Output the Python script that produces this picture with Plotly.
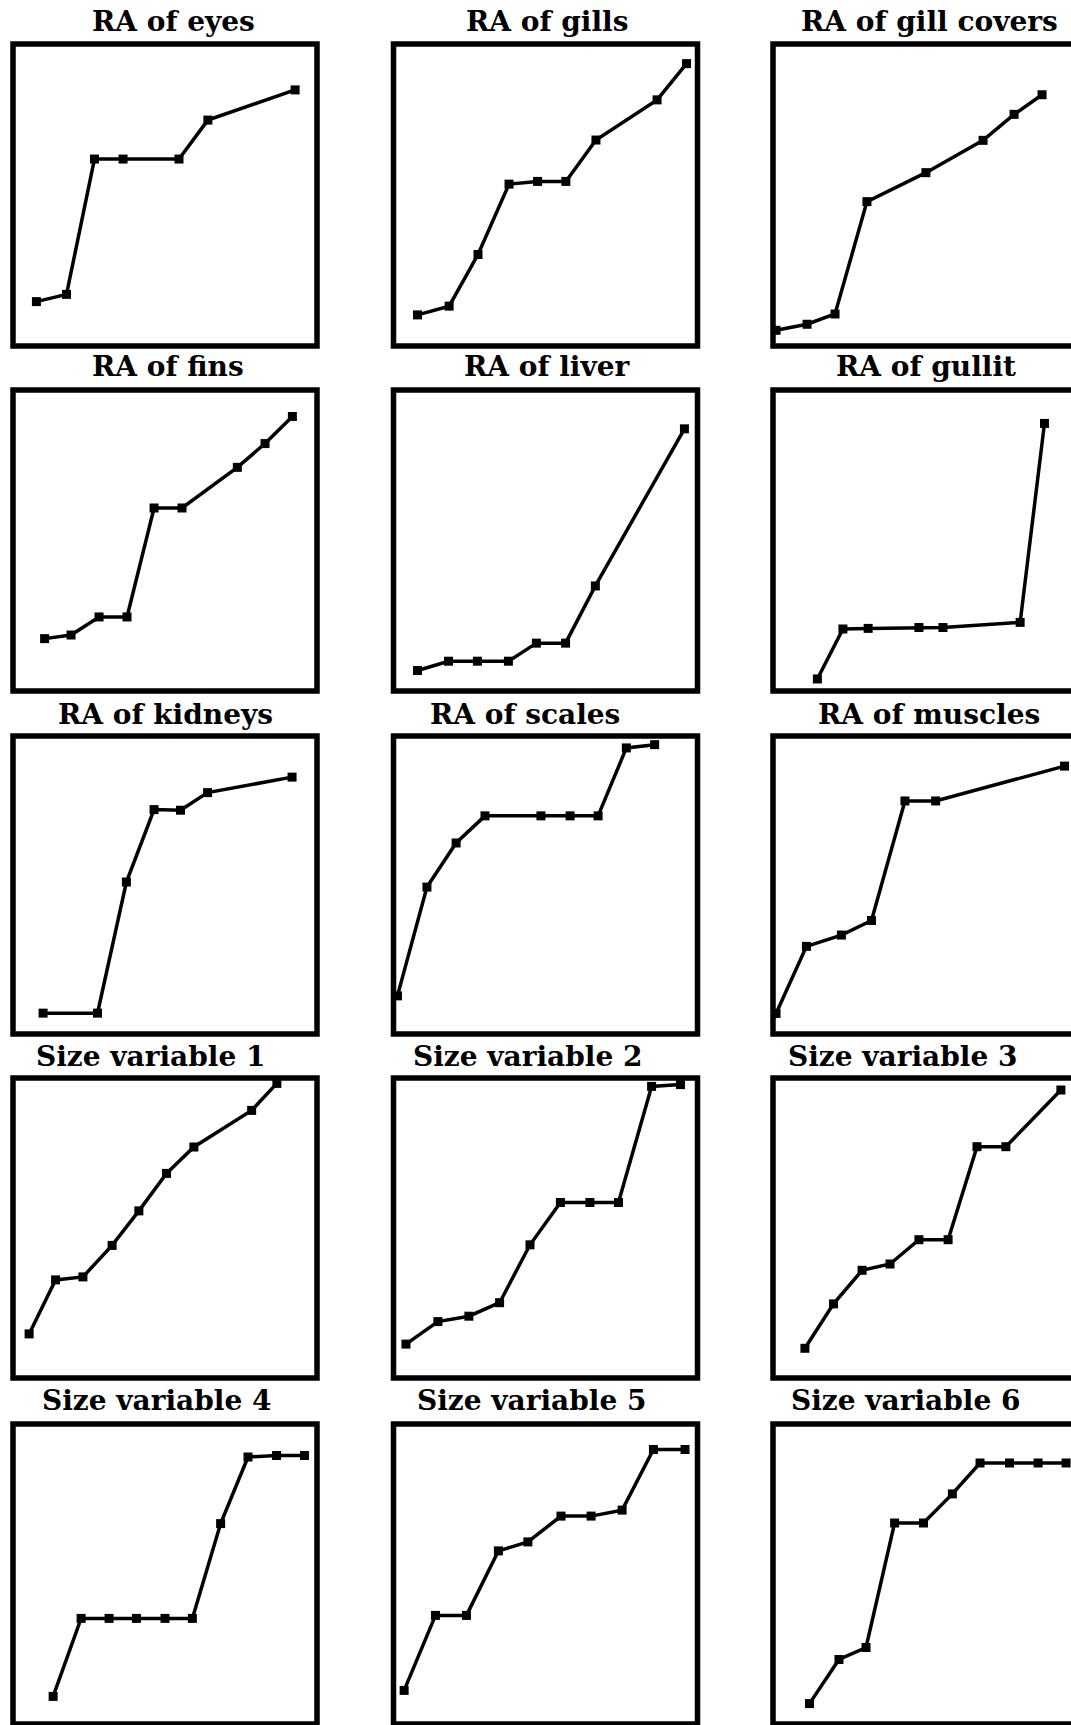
import plotly.graph_objects as go

# ---------------- data (x: position along panel, 0-100; y: relative accumulation, 0-100) ----------------
eyes_x = [7.7, 17.6, 26.8, 36.2, 54.6, 64.1, 92.8]
eyes_y = [14.7, 17.1, 61.9, 61.9, 61.9, 74.8, 84.8]

gills_x = [7.9, 18.3, 27.8, 38.0, 47.4, 56.7, 66.6, 86.7, 96.4]
gills_y = [10.3, 13.2, 30.3, 53.6, 54.5, 54.5, 68.2, 81.5, 93.5]

gill_covers_x = [1.0, 11.2, 20.4, 30.9, 50.3, 69.1, 79.3, 88.5]
gill_covers_y = [5.2, 7.2, 10.6, 47.8, 57.4, 68.1, 76.7, 83.2]

fins_x = [10.4, 19.1, 28.3, 37.5, 46.4, 55.6, 73.8, 82.9, 91.9]
fins_y = [17.4, 18.6, 24.6, 24.6, 60.8, 60.8, 74.3, 82.2, 91.2]

liver_x = [7.9, 18.1, 27.6, 37.8, 47.0, 56.6, 66.4, 95.7]
liver_y = [6.8, 9.9, 9.9, 9.9, 15.9, 15.9, 34.9, 87.1]

gullit_x = [14.6, 23.0, 31.3, 48.0, 55.9, 81.3, 89.3]
gullit_y = [4.0, 20.6, 20.8, 21.1, 21.1, 22.8, 88.9]

kidneys_x = [9.9, 27.8, 37.3, 46.4, 55.1, 64.0, 91.8]
kidneys_y = [7.0, 7.0, 51.0, 75.3, 75.1, 81.0, 86.2]

scales_x = [1.3, 11.0, 20.6, 30.1, 48.5, 58.1, 67.3, 76.6, 85.9]
scales_y = [12.8, 49.3, 64.1, 73.2, 73.2, 73.2, 73.2, 96.0, 97.1]

muscles_x = [1.0, 11.0, 22.5, 32.4, 43.4, 53.5, 95.9]
muscles_y = [6.9, 29.4, 33.2, 38.1, 78.2, 78.2, 89.9]

size1_x = [5.3, 14.0, 23.0, 32.6, 41.4, 50.5, 59.5, 78.5, 86.8]
size1_y = [14.7, 32.7, 33.7, 44.2, 55.7, 68.2, 77.0, 89.2, 98.2]

size2_x = [4.1, 14.6, 24.8, 34.9, 44.9, 54.9, 64.6, 74.0, 84.9, 94.4]
size2_y = [11.3, 18.8, 20.6, 25.1, 44.4, 58.5, 58.5, 58.5, 97.2, 97.8]

size3_x = [10.5, 19.9, 29.3, 38.5, 48.0, 57.6, 67.1, 76.6, 94.7]
size3_y = [9.9, 24.7, 35.9, 38.0, 46.1, 46.1, 77.1, 77.1, 96.0]

size4_x = [13.2, 22.4, 31.6, 40.6, 50.0, 59.0, 68.3, 77.3, 86.7, 95.9]
size4_y = [9.2, 35.2, 35.2, 35.2, 35.2, 35.2, 66.8, 89.0, 89.5, 89.5]

size5_x = [3.5, 13.8, 24.0, 34.5, 44.2, 55.1, 65.0, 75.2, 85.5, 95.9]
size5_y = [11.2, 36.2, 36.2, 57.7, 60.7, 69.3, 69.3, 71.3, 91.5, 91.5]

size6_x = [12.0, 21.7, 30.6, 40.0, 49.5, 59.0, 68.1, 77.8, 87.2, 96.4]
size6_y = [6.8, 21.5, 25.5, 67.0, 67.0, 76.7, 87.0, 87.0, 87.0, 87.0]

titles = ["RA of eyes", "RA of gills", "RA of gill covers",
          "RA of fins", "RA of liver", "RA of gullit",
          "RA of kidneys", "RA of scales", "RA of muscles",
          "Size variable 1", "Size variable 2", "Size variable 3",
          "Size variable 4", "Size variable 5", "Size variable 6"]

series = [(eyes_x, eyes_y), (gills_x, gills_y), (gill_covers_x, gill_covers_y),
          (fins_x, fins_y), (liver_x, liver_y), (gullit_x, gullit_y),
          (kidneys_x, kidneys_y), (scales_x, scales_y), (muscles_x, muscles_y),
          (size1_x, size1_y), (size2_x, size2_y), (size3_x, size3_y),
          (size4_x, size4_y), (size5_x, size5_y), (size6_x, size6_y)]

# ---------------- layout geometry (pixels) ----------------
W, H = 1071, 1725
col_left = [13, 393.5, 773]
col_right = [317, 697.5, 1077]
row_top = [44, 390, 736, 1078, 1424]
row_bottom = [346, 691, 1034, 1378, 1724]
title_cx = [173, 547, 929, 168, 547, 926, 165, 525, 929, 151, 528, 903, 157, 532, 906]
title_cy = [22, 367, 714, 1056, 1400]

fig = go.Figure()
shapes = []
annotations = []

for i, ((xs, ys), title) in enumerate(zip(series, titles)):
    r, c = divmod(i, 3)
    n = i + 1
    left, right = col_left[c], col_right[c]
    top, bottom = row_top[r], row_bottom[r]
    dom_right = min(right, W)
    xr = [0, (dom_right - left) / (right - left) * 100]
    xa = "xaxis" if n == 1 else f"xaxis{n}"
    ya = "yaxis" if n == 1 else f"yaxis{n}"
    xref = "x" if n == 1 else f"x{n}"
    yref = "y" if n == 1 else f"y{n}"
    fig.layout[xa] = dict(domain=[left / W, dom_right / W], range=xr, visible=False,
                          anchor=yref, fixedrange=True)
    fig.layout[ya] = dict(domain=[1 - bottom / H, 1 - top / H], range=[0, 100], visible=False,
                          anchor=xref, fixedrange=True)
    fig.add_trace(go.Scatter(x=xs, y=ys, xaxis=xref, yaxis=yref, mode="lines+markers",
                             line=dict(color="black", width=3.5),
                             marker=dict(symbol="square", size=9, color="black"),
                             cliponaxis=False, showlegend=False, hoverinfo="skip"))
    shapes.append(dict(type="rect", xref="paper", yref="paper",
                       x0=left / W, x1=right / W, y0=1 - bottom / H, y1=1 - top / H,
                       line=dict(color="black", width=5.5), fillcolor="rgba(0,0,0,0)"))
    annotations.append(dict(text=f"<b>{title}</b>", xref="paper", yref="paper",
                            x=title_cx[i] / W, y=1 - title_cy[r] / H,
                            xanchor="center", yanchor="middle", showarrow=False,
                            font=dict(family="DejaVu Serif", size=28, color="black")))

fig.update_layout(width=W, height=H, margin=dict(l=0, r=0, t=0, b=0),
                  paper_bgcolor="white", plot_bgcolor="white",
                  shapes=shapes, annotations=annotations, showlegend=False)

fig.write_html("out.html")
